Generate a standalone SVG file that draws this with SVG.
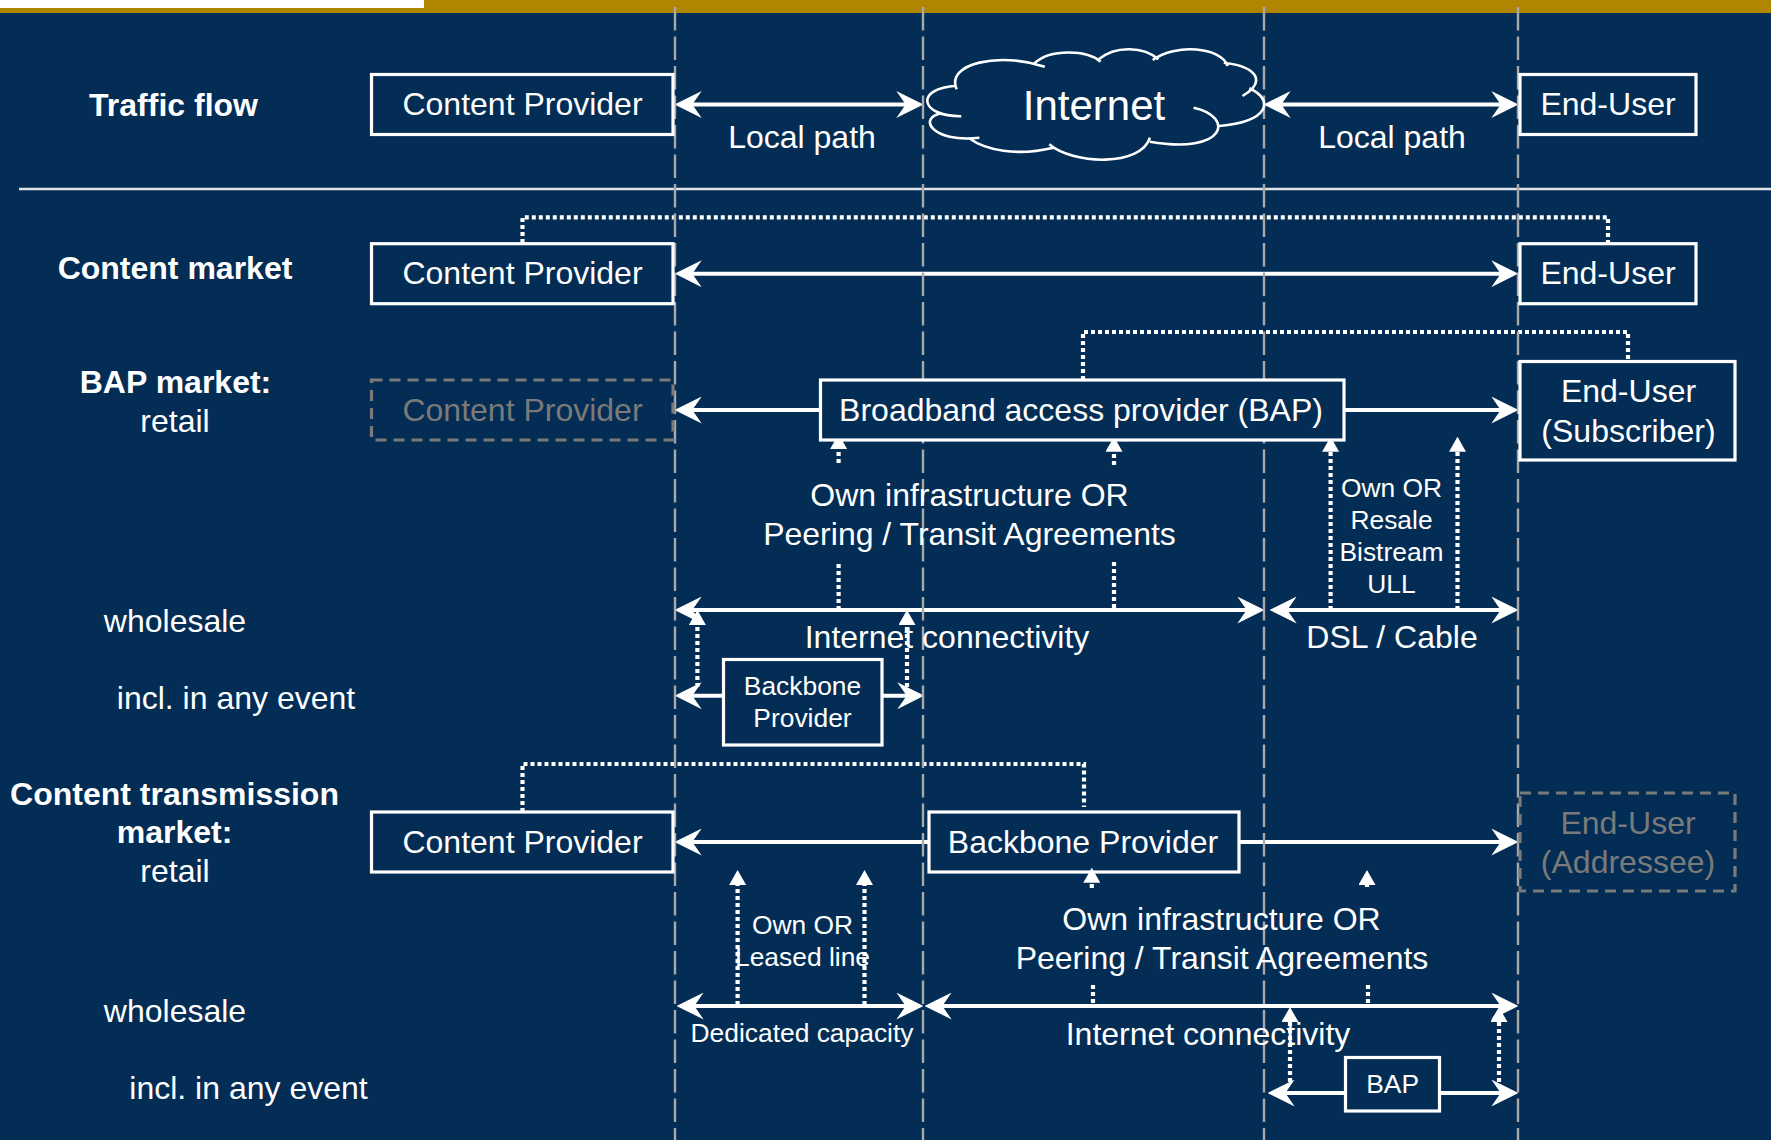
<svg xmlns="http://www.w3.org/2000/svg" width="1771" height="1140" viewBox="0 0 1771 1140">
<style>
text{font-family:"Liberation Sans",Arial,sans-serif;font-size:32px;fill:#fff;text-anchor:middle}
.b{font-weight:700}
.s{font-size:26.4px}
.big{font-size:42px}
.g{fill:#7a7a7a}
.box{fill:#032d55;stroke:#fff;stroke-width:3.2}
.dbox{fill:#032d55;stroke:#7a7a7a;stroke-width:3.2;stroke-dasharray:11 7}
.ar{fill:none;stroke:#fff;stroke-width:4;marker-start:url(#head);marker-end:url(#head)}
.al{fill:none;stroke:#fff;stroke-width:4;marker-start:url(#head)}
.ae{fill:none;stroke:#fff;stroke-width:4;marker-end:url(#head)}
.dot{fill:none;stroke:#fff;stroke-width:4.2;stroke-dasharray:4 3}
.up{fill:none;stroke:#fff;stroke-width:4.2;stroke-dasharray:4 3;marker-end:url(#tri)}
.guide{fill:none;stroke:#a9a9a9;stroke-width:2.4;stroke-dasharray:23.5 6}
</style>
<defs>
<marker id="head" markerUnits="userSpaceOnUse" markerWidth="27" markerHeight="27" viewBox="0 0 26 26" refX="18" refY="13" orient="auto-start-reverse"><path d="M26,13 L0,0 L9,13 L0,26 Z" fill="#fff"/></marker>
<marker id="tri" markerUnits="userSpaceOnUse" markerWidth="15" markerHeight="17" viewBox="0 0 15 17" refX="0" refY="8.5" orient="auto"><path d="M0,0 L15,8.5 L0,17 Z" fill="#fff"/></marker>
</defs>
<rect width="1771" height="1140" fill="#032d55"/>
<rect width="1771" height="13" fill="#b08600"/>
<rect width="424" height="8" fill="#fff"/>
<path d="M19,189 H1771" stroke="#dfe3e8" stroke-width="2.6" fill="none"/>

<g id="connectors">
<path class="ar" d="M683,104.5 H915"/>
<path class="ar" d="M1272,104.5 H1510"/>
<path class="ar" d="M683,273.7 H1510"/>
<path class="al" d="M683,410 H820"/>
<path class="ae" d="M1344,410 H1510"/>
<path class="ar" d="M683,610 H1256"/>
<path class="ar" d="M1278,610 H1510"/>
<path class="al" d="M683,695.7 H723"/>
<path class="ae" d="M882,695.7 H916"/>
<path class="al" d="M683,842 H929"/>
<path class="ae" d="M1239,842 H1510"/>
<path class="ar" d="M685,1006 H915"/>
<path class="ar" d="M933,1006 H1510"/>
<path class="al" d="M1276,1093 H1345"/>
<path class="ae" d="M1440,1093 H1510"/>

<path class="dot" d="M522.5,243 V217.3 H1608 V243"/>
<path class="dot" d="M1083,380 V332 H1628 V361"/>
<path class="dot" d="M522.5,812 V764 H1084 V807"/>

<path class="up" d="M838.6,463 V449"/>
<path class="dot" d="M838.6,564 V610"/>
<path class="up" d="M1114,465 V451.7"/>
<path class="dot" d="M1114,562 V610"/>
<path class="up" d="M1330.6,610 V451.7"/>
<path class="up" d="M1457.5,610 V451.7"/>
<path class="up" d="M697.4,687 V625"/>
<path class="up" d="M907,687 V625"/>
<path class="up" d="M737.6,1005 V885"/>
<path class="up" d="M864.5,1005 V885"/>
<path class="dot" d="M1093,985 V1006"/>
<path class="up" d="M1367,887 V885"/>
<path class="dot" d="M1368,985 V1006"/>
<path class="up" d="M1290,1082 V1022"/>
<path class="up" d="M1499,1082 V1022"/>
</g>

<g id="guides">
<path class="guide" d="M675,7 V1140"/>
<path class="guide" d="M923,7 V1140"/>
<path class="guide" d="M1264,7 V1140"/>
<path class="guide" d="M1518,7 V1140"/>
</g>

<g id="row-labels">
<text class="b" x="173.5" y="116">Traffic flow</text>
<text class="b" x="175" y="279">Content market</text>
<text class="b" x="175.5" y="393">BAP market:</text>
<text x="175" y="432">retail</text>
<text x="175" y="632">wholesale</text>
<text x="236" y="709">incl. in any event</text>
<text class="b" x="174.5" y="805">Content transmission</text>
<text class="b" x="174.5" y="842.6">market:</text>
<text x="175" y="882">retail</text>
<text x="175" y="1022">wholesale</text>
<text x="248.5" y="1099">incl. in any event</text>
</g>

<g id="cp-traffic"><rect class="box" x="371.5" y="74.5" width="301.5" height="60"/><text x="522.5" y="115">Content Provider</text></g>
<g id="cloud-internet">
<path d="M961.3,116.3 C919.8,116.7 914.1,88.3 956.7,85.7 M956.7,89.3 C945.3,63.3 999.3,51.7 1044.8,66.7 M1034.5,63.3 C1050.5,48.3 1087.4,50 1100.5,61.7 M1098.8,59.3 C1115.8,45 1144.2,46.7 1158.4,59.3 M1152.7,60 C1175.5,43.3 1220.9,46.7 1227.7,66 M1223.8,62.7 C1257.8,66.7 1266.4,81.7 1242.5,96 M1249.3,88.3 C1274.9,100 1269.2,121.7 1219.2,126 M1193.6,107.7 C1235.1,116.7 1226.6,155 1149.9,141.7 M1149.9,137.7 C1141.4,166.7 1073.2,165 1049.3,144.3 M1053.3,147.7 C1016.4,156.7 985.1,150 969.2,138.3 M979.4,137.7 C931.1,143.3 916.9,116.7 942.5,113.3" fill="none" stroke="#fff" stroke-width="2.6"/>
<text class="big" x="1094" y="120">Internet</text>
</g>
<g id="eu-traffic"><rect class="box" x="1520" y="74.5" width="176" height="60"/><text x="1608" y="115">End-User</text></g>
<g id="cp-content"><rect class="box" x="371.5" y="243.7" width="301.5" height="60"/><text x="522.5" y="283.7">Content Provider</text></g>
<g id="eu-content"><rect class="box" x="1520" y="243.7" width="176" height="60"/><text x="1608" y="283.7">End-User</text></g>
<g id="cp-bap"><rect class="dbox" x="371.5" y="380" width="301.5" height="60"/><text class="g" x="522.5" y="420.7">Content Provider</text></g>
<g id="bap-retail"><rect class="box" x="820.5" y="380" width="523.5" height="60"/><text x="1081" y="420.7">Broadband access provider (BAP)</text></g>
<g id="eu-subscriber"><rect class="box" x="1520" y="361.5" width="215" height="98.5"/><text x="1628.5" y="401.7">End-User</text><text x="1628.5" y="441.5">(Subscriber)</text></g>
<g id="backbone-small"><rect class="box" x="723.5" y="659.5" width="158.5" height="85.5"/><text class="s" x="802.5" y="695">Backbone</text><text class="s" x="802.5" y="726.7">Provider</text></g>
<g id="cp-transmission"><rect class="box" x="371.5" y="812" width="301.5" height="60"/><text x="522.5" y="852.7">Content Provider</text></g>
<g id="backbone-retail"><rect class="box" x="929" y="812" width="310" height="60"/><text x="1083" y="852.7">Backbone Provider</text></g>
<g id="eu-addressee"><rect class="dbox" x="1520" y="793" width="215" height="98"/><text class="g" x="1628" y="834">End-User</text><text class="g" x="1628" y="873">(Addressee)</text></g>
<g id="bap-small"><rect class="box" x="1345.5" y="1057.5" width="94" height="53.5"/><text class="s" x="1392.6" y="1092.7">BAP</text></g>

<g id="connectors-over-nodes">
<path class="up" d="M1091.8,888 V882.7"/>
</g>

<g id="connector-labels">
<text x="802" y="148">Local path</text>
<text x="1392" y="148">Local path</text>
<text x="969.5" y="506">Own infrastructure OR</text>
<text x="969.5" y="545">Peering / Transit Agreements</text>
<text x="947" y="647.7">Internet connectivity</text>
<text x="1392" y="648">DSL / Cable</text>
<text class="s" x="1391.5" y="497">Own OR</text>
<text class="s" x="1391.5" y="529">Resale</text>
<text class="s" x="1391.5" y="561">Bistream</text>
<text class="s" x="1391.5" y="592.7">ULL</text>
<text x="1221.5" y="930">Own infrastructure OR</text>
<text x="1222" y="969">Peering / Transit Agreements</text>
<text class="s" x="802.5" y="934">Own OR</text>
<text class="s" x="802.5" y="965.7">Leased line</text>
<text class="s" x="802" y="1042">Dedicated capacity</text>
<text x="1208" y="1044.7">Internet connectivity</text>
</g>
</svg>
